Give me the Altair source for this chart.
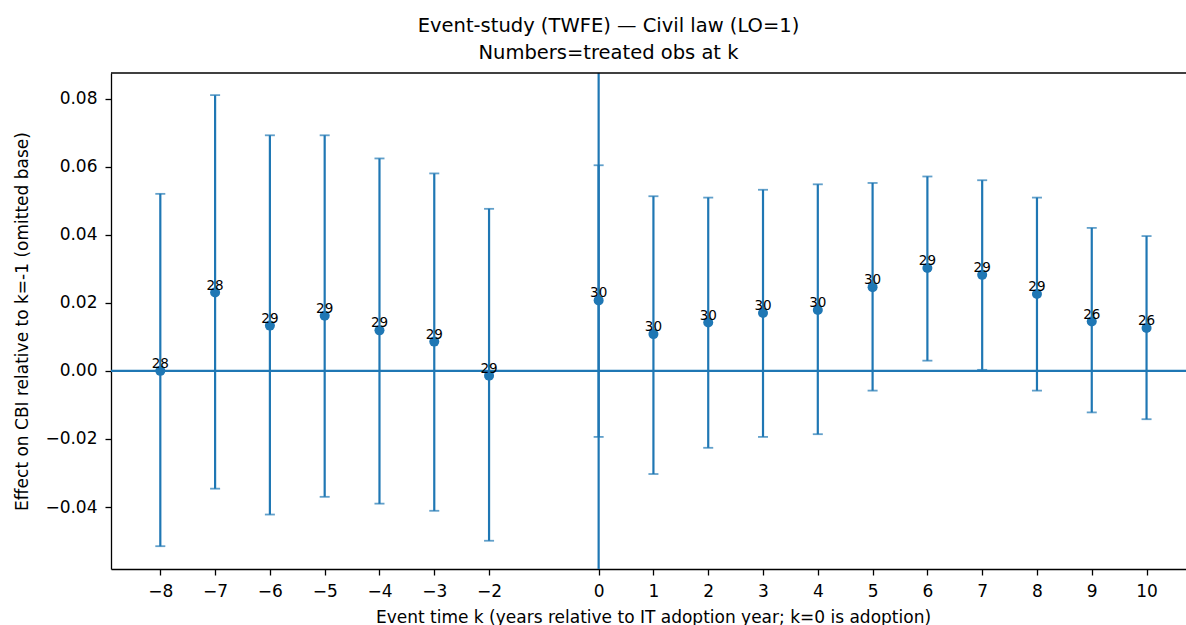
import altair as alt
import pandas as pd

k = [-8, -7, -6, -5, -4, -3, -2, 0, 1, 2, 3, 4, 5, 6, 7, 8, 9, 10]
coef = [0.0000, 0.0230, 0.0133, 0.0162, 0.0119, 0.0086, -0.0014, 0.0207, 0.0108,
        0.0142, 0.0170, 0.0179, 0.0246, 0.0302, 0.0282, 0.0226, 0.0145, 0.0126]
ci_lo = [-0.0515, -0.0346, -0.0422, -0.0370, -0.0390, -0.0411, -0.0499, -0.0194, -0.0303,
         -0.0226, -0.0194, -0.0186, -0.0058, 0.0030, 0.0003, -0.0058, -0.0122, -0.0142]
ci_hi = [0.0520, 0.0810, 0.0692, 0.0692, 0.0624, 0.0580, 0.0476, 0.0604, 0.0513,
         0.0509, 0.0532, 0.0548, 0.0552, 0.0571, 0.0560, 0.0509, 0.0420, 0.0396]
n_treated = [28, 28, 29, 29, 29, 29, 29, 30, 30, 30, 30, 30, 30, 29, 29, 29, 26, 26]

y_ticks = [-0.04, -0.02, 0.00, 0.02, 0.04, 0.06, 0.08]

df = pd.DataFrame({"k": k, "coef": coef, "lo": ci_lo, "hi": ci_hi, "n": n_treated})

W, H = 1075, 496
BLUE = "#1f77b4"
FONT = "DejaVu Sans"

xs = alt.Scale(domain=[-8.9, 10.72], nice=False, zero=False)
ys = alt.Scale(domain=[-0.0582, 0.0875], nice=False, zero=False)

axis_style = dict(
    labelFont=FONT, titleFont=FONT, labelFontSize=17, titleFontSize=17,
    labelColor="black", titleColor="black", titleFontWeight="normal",
    grid=False, domainColor="black", domainWidth=1.3, tickColor="black", tickWidth=1.3,
    tickSize=6, labelPadding=8,
)

x_axis = alt.Axis(values=k, format="d",
                  title="Event time k (years relative to IT adoption year; k=0 is adoption)",
                  titleX=542, titleY=53, titleBaseline="alphabetic", titleAlign="center",
                  **axis_style)
y_axis = alt.Axis(values=y_ticks, format=".2f",
                  title="Effect on CBI relative to k=-1 (omitted base)",
                  titleX=-89, titleY=248, titleBaseline="middle", titleAlign="center",
                  titleAngle=270, **axis_style)

base = alt.Chart(df)

bars = base.mark_rule(color=BLUE, strokeWidth=2.2).encode(
    x=alt.X("k:Q", scale=xs, axis=x_axis),
    y=alt.Y("lo:Q", scale=ys, axis=y_axis),
    y2="hi:Q",
)
cap_lo = base.mark_tick(color=BLUE, orient="horizontal", size=10, thickness=1.8).encode(
    x=alt.X("k:Q", scale=xs), y=alt.Y("lo:Q", scale=ys))
cap_hi = base.mark_tick(color=BLUE, orient="horizontal", size=10, thickness=1.8).encode(
    x=alt.X("k:Q", scale=xs), y=alt.Y("hi:Q", scale=ys))
pts = base.mark_point(filled=True, shape="circle", size=100, color=BLUE, opacity=1).encode(
    x=alt.X("k:Q", scale=xs), y=alt.Y("coef:Q", scale=ys))
labels = base.mark_text(font=FONT, fontSize=13.5, color="black", align="center",
                        baseline="alphabetic", dy=-3).encode(
    x=alt.X("k:Q", scale=xs), y=alt.Y("coef:Q", scale=ys), text="n:Q")

hline = alt.Chart(pd.DataFrame({"y0": [0.0]})).mark_rule(color=BLUE, strokeWidth=2.2).encode(
    y=alt.Y("y0:Q", scale=ys), x=alt.value(0), x2=alt.value(W))
vline = alt.Chart(pd.DataFrame({"x0": [0]})).mark_rule(color=BLUE, strokeWidth=2.2).encode(
    x=alt.X("x0:Q", scale=xs), y=alt.value(0), y2=alt.value(H))
top_spine = alt.Chart(pd.DataFrame({"t": [0]})).mark_rule(color="black", strokeWidth=1.3).encode(
    y=alt.value(0), x=alt.value(0), x2=alt.value(W))

chart = alt.layer(bars, cap_lo, cap_hi, hline, vline, pts, labels, top_spine).properties(
    width=W, height=H,
    background="white",
    autosize=alt.AutoSizeParams(type="none"),
    padding={"left": 111, "top": 73, "right": 0, "bottom": 56},
    title=alt.TitleParams(
        text=["Event-study (TWFE) — Civil law (LO=1)", "Numbers=treated obs at k"],
        font=FONT, fontSize=19.5, fontWeight="normal", color="black",
        anchor="middle", frame="group", dx=-40, lineHeight=27, offset=8,
    ),
).configure_view(stroke=None)

chart.save("out.html", embed_options={"renderer": "svg", "actions": False})
